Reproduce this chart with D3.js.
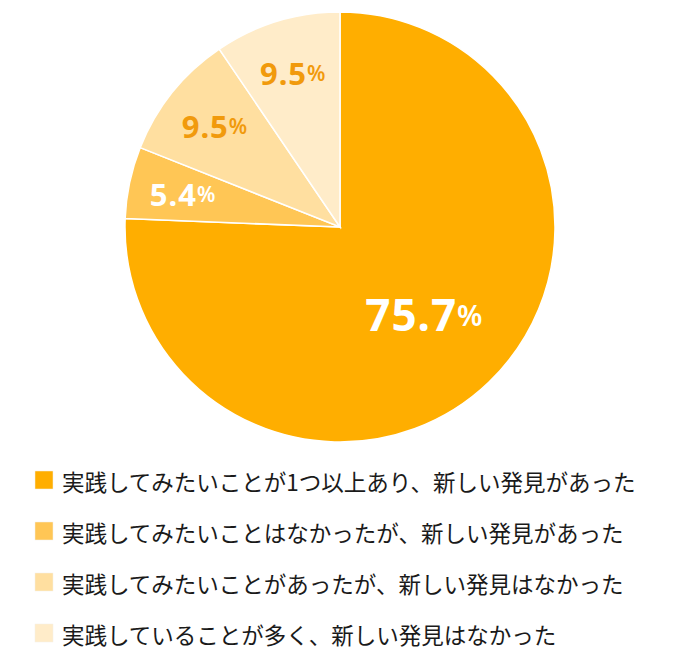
<!DOCTYPE html>
<html>
<head>
<meta charset="utf-8">
<script src="https://cdn.jsdelivr.net/npm/d3@7"></script>
<style>
  body { margin: 0; background: #fff; }
  svg { display: block; }
</style>
</head>
<body>
<svg width="680" height="658"></svg>
<script>
// answer categories (legend order = clockwise order from 12 o'clock)
var categories = [
  "実践してみたいことが1つ以上あり、新しい発見があった",
  "実践してみたいことはなかったが、新しい発見があった",
  "実践してみたいことがあったが、新しい発見はなかった",
  "実践していることが多く、新しい発見はなかった"
];
var values = [75.7, 5.4, 9.5, 9.5];
var colors = ["#ffae00", "#ffc655", "#ffdfa0", "#ffecc9"];
var labelColors = ["#ffffff", "#ffffff", "#f19a0c", "#f19a0c"];

var svg = d3.select("svg"),
    cx = 340, cy = 227, radius = 215;

var data = categories.map(function(c, i) { return { key: c, value: values[i] }; });

var pie = d3.pie()
    .sort(null)
    .value(function(d) { return d.value; });

var arc = d3.arc().innerRadius(0).outerRadius(radius);

var g = svg.append("g").attr("transform", "translate(" + cx + "," + cy + ")");

var arcs = pie(data);

g.selectAll("path")
  .data(arcs)
  .enter().append("path")
    .attr("d", arc)
    .attr("fill", function(d, i) { return colors[i]; })
    .attr("stroke", "#fff")
    .attr("stroke-width", 1.5);

// labels: big slice sits closer to the centre
var labelArcBig = d3.arc().innerRadius(121).outerRadius(121);
var labelArcSmall = d3.arc().innerRadius(161).outerRadius(161);

var lab = g.selectAll("text.lab")
  .data(arcs)
  .enter().append("text")
    .attr("class", "lab")
    .attr("transform", function(d, i) {
      var c = (i === 0 ? labelArcBig : labelArcSmall).centroid(d);
      return "translate(" + c[0] + "," + c[1] + ")";
    })
    .attr("text-anchor", "middle")
    .attr("dominant-baseline", "central")
    .attr("fill", function(d, i) { return labelColors[i]; })
    .style("font-family", "'Noto Sans', 'DejaVu Sans', sans-serif")
    .style("font-weight", "bold");

lab.append("tspan")
    .style("font-size", function(d, i) { return i === 0 ? "44px" : "31px"; })
    .style("letter-spacing", "1px")
    .text(function(d) { return d.data.value.toFixed(1); });
lab.append("tspan")
    .style("font-size", function(d, i) { return i === 0 ? "29px" : "21px"; })
    .style("font-weight", "600")
    .text("%");

// legend
var legend = svg.append("g")
  .selectAll("g")
  .data(categories)
  .enter().append("g")
    .attr("transform", function(d, i) { return "translate(35," + (471 + i * 51) + ")"; });

legend.append("rect")
    .attr("width", 18)
    .attr("height", 18)
    .attr("fill", function(d, i) { return colors[i]; })
    .attr("stroke", "#f3f0e8")
    .attr("stroke-width", 0.5);

legend.append("text")
    .attr("x", 27)
    .attr("y", 10)
    .attr("dominant-baseline", "central")
    .attr("fill", "#1a1a1a")
    .style("font-family", "'Noto Sans CJK JP', sans-serif")
    .style("font-size", "22.5px")
    .text(function(d) { return d; });
</script>
</body>
</html>
